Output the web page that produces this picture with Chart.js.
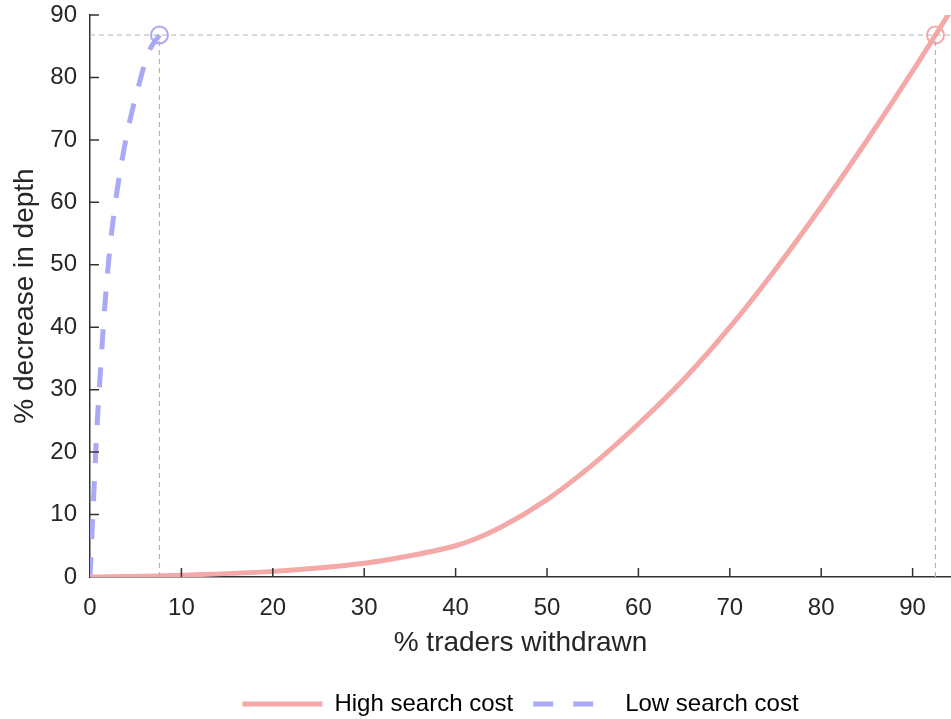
<!DOCTYPE html>
<html>
<head>
<meta charset="utf-8">
<script src="https://cdn.jsdelivr.net/npm/chart.js@4/dist/chart.umd.min.js"></script>
<style>
  html, body { margin: 0; padding: 0; background: #fff; }
  #wrap { width: 951px; height: 719px; }
</style>
</head>
<body>
<div id="wrap"><canvas id="chart"></canvas></div>
<script>
// values
const highX = [0, 10, 20, 30, 35, 40, 42, 45, 50, 55, 60, 65, 70, 75, 80, 85, 90, 92.5, 95];
const highY = [0, 0.3, 0.9, 2.2, 3.4, 5.0, 6.0, 8.0, 12.4, 18.0, 24.5, 31.7, 40.0, 49.3, 59.3, 69.9, 81.0, 86.8, 92.6];
const lowX = [0, 0.25, 0.5, 0.8, 1.1, 1.5, 2.0, 2.6, 3.3, 4.2, 5.2, 6.4, 7.6];
const lowY = [0, 8, 16, 25, 32, 41, 50, 58, 65, 72, 78, 84, 86.8];
const markerX = [7.6, 92.5];   // low, high
const markerY = 86.8;
const xTicks = [0, 10, 20, 30, 40, 50, 60, 70, 80, 90];
const yTicks = [0, 10, 20, 30, 40, 50, 60, 70, 80, 90];
const xMax = 94.2;

const pink = '#f4a8a8';
const blue = '#a9a9f5';
const guide = '#b4b4b4';
const axisColor = '#333333';
const font = 'Liberation Sans, Arial, sans-serif';

function pts(xs, ys) {
    return xs.map(function(x, i) { return { x: x, y: ys[i] }; });
}

const guideStyle = {
    borderColor: guide,
    borderWidth: 1.2,
    borderDash: [5, 4],
    pointRadius: 0,
    showLine: true,
    fill: false
};

// matlab style ticks pointing into the plot
const inwardTicks = {
    id: 'inwardTicks',
    afterDatasetsDraw: function(chart) {
        const c = chart.ctx;
        const area = chart.chartArea;
        const sx = chart.scales.x;
        const sy = chart.scales.y;
        c.save();
        c.strokeStyle = axisColor;
        c.lineWidth = 1.5;
        c.beginPath();
        xTicks.forEach(function(v) {
            if (v === 0) return;
            const px = sx.getPixelForValue(v);
            c.moveTo(px, area.bottom);
            c.lineTo(px, area.bottom - 9);
        });
        yTicks.forEach(function(v) {
            if (v === 0) return;
            const py = sy.getPixelForValue(v);
            c.moveTo(area.left, py);
            c.lineTo(area.left + 9, py);
        });
        c.stroke();
        c.restore();
    }
};

const ctx = document.getElementById('chart').getContext('2d');
new Chart(ctx, {
    type: 'scatter',
    data: {
        datasets: [
            Object.assign({ label: 'guide-h', data: [{ x: 0, y: markerY }, { x: xMax, y: markerY }] }, guideStyle),
            Object.assign({ label: 'guide-low', data: [{ x: markerX[0], y: 0 }, { x: markerX[0], y: markerY }] }, guideStyle),
            Object.assign({ label: 'guide-high', data: [{ x: markerX[1], y: 0 }, { x: markerX[1], y: markerY }] }, guideStyle),
            {
                label: 'High search cost',
                data: pts(highX, highY),
                showLine: true,
                borderColor: pink,
                backgroundColor: pink,
                borderWidth: 5,
                pointRadius: 0,
                cubicInterpolationMode: 'monotone'
            },
            {
                label: 'Low search cost',
                data: pts(lowX, lowY),
                showLine: true,
                borderColor: blue,
                backgroundColor: blue,
                borderWidth: 5,
                borderDash: [20, 18],
                pointRadius: 0,
                cubicInterpolationMode: 'monotone'
            },
            {
                label: 'marker-low',
                data: [{ x: markerX[0], y: markerY }],
                pointRadius: 8.5,
                pointBorderWidth: 2,
                pointBackgroundColor: '#ffffff',
                pointBorderColor: blue
            },
            {
                label: 'marker-high',
                data: [{ x: markerX[1], y: markerY }],
                pointRadius: 8.5,
                pointBorderWidth: 2,
                pointBackgroundColor: '#ffffff',
                pointBorderColor: pink
            }
        ]
    },
    options: {
        responsive: true,
        maintainAspectRatio: false,
        animation: false,
        layout: {
            autoPadding: false,
            padding: { top: 15, right: 0, left: 0, bottom: -7 }
        },
        plugins: {
            tooltip: { enabled: false },
            legend: {
                position: 'bottom',
                fullSize: false,
                labels: {
                    generateLabels: function(chart) {
                        const items = Chart.defaults.plugins.legend.labels.generateLabels(chart);
                        return items.filter(function(item) {
                            return item.text === 'High search cost' || item.text === 'Low search cost';
                        }).map(function(item) {
                            const ds = chart.data.datasets[item.datasetIndex];
                            item.pointStyle = 'line';
                            item.strokeStyle = ds.borderColor;
                            item.lineWidth = 5;
                            item.lineDash = ds.borderDash ? [20, 20] : [];
                            return item;
                        });
                    },
                    usePointStyle: true,
                    pointStyle: 'line',
                    pointStyleWidth: 80,
                    boxHeight: 10,
                    padding: 20,
                    color: '#000000',
                    font: { family: font, size: 24 }
                }
            }
        },
        scales: {
            x: {
                type: 'linear',
                min: 0,
                max: xMax,
                afterFit: function(scale) {
                    scale.height = 95;
                    scale.paddingLeft = 0;
                    scale.paddingRight = 0;
                },
                afterBuildTicks: function(scale) {
                    scale.ticks = xTicks.map(function(v) { return { value: v }; });
                },
                border: { display: true, color: axisColor, width: 1.5 },
                grid: { display: false },
                ticks: {
                    padding: 9,
                    color: '#262626',
                    font: { family: font, size: 24 }
                },
                title: {
                    display: true,
                    text: '% traders withdrawn',
                    color: '#262626',
                    font: { family: font, size: 28 },
                    padding: { top: 0, bottom: 12 }
                }
            },
            y: {
                type: 'linear',
                min: 0,
                max: 90,
                afterFit: function(scale) {
                    scale.width = 90;
                    scale.paddingTop = 0;
                    scale.paddingBottom = 0;
                },
                afterBuildTicks: function(scale) {
                    scale.ticks = yTicks.map(function(v) { return { value: v }; });
                },
                border: { display: true, color: axisColor, width: 1.5 },
                grid: { display: false },
                ticks: {
                    padding: 5,
                    color: '#262626',
                    font: { family: font, size: 24 }
                },
                title: {
                    display: true,
                    text: '% decrease in depth',
                    color: '#262626',
                    font: { family: font, size: 28 },
                    padding: { top: 8, bottom: 0 }
                }
            }
        }
    },
    plugins: [inwardTicks]
});
</script>
</body>
</html>
